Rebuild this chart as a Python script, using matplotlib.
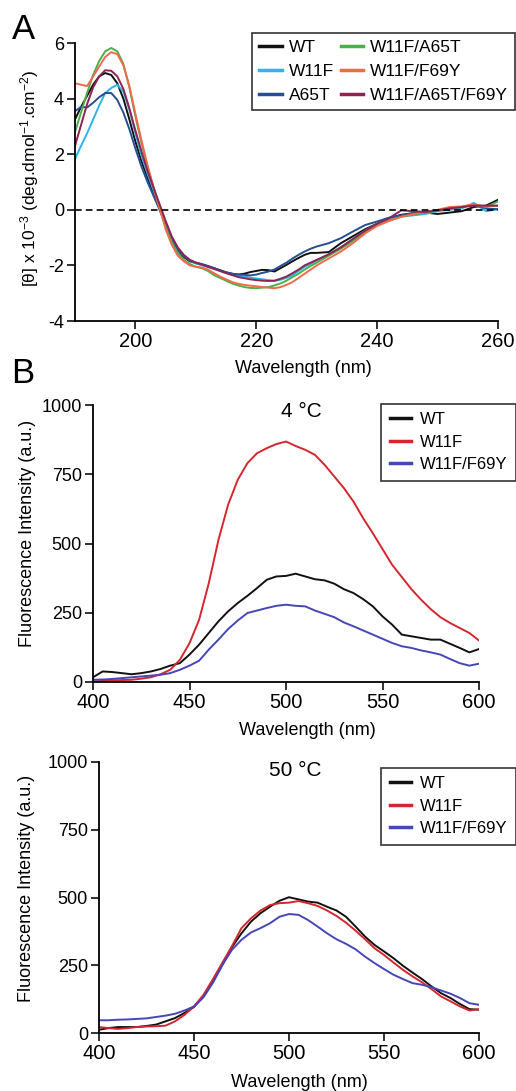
import matplotlib
matplotlib.use("Agg")
import matplotlib.pyplot as plt

plt.rcParams['font.family'] = ['Liberation Sans', 'DejaVu Sans']
plt.rcParams['mathtext.fontset'] = 'custom'
plt.rcParams['mathtext.rm'] = 'Liberation Sans'
plt.rcParams['mathtext.it'] = 'Liberation Sans:italic'
plt.rcParams['axes.unicode_minus'] = False

# ---------------- Panel A data (CD spectra) ----------------
wl_A = list(range(190, 231)) + list(range(232, 261, 2))

cd_wt = [3.25, 3.7, 4.1, 4.5, 4.8, 4.92, 4.85, 4.55, 4.0, 3.25, 2.45, 1.75, 1.15, 0.6, 0.05,
         -0.55, -1.05, -1.45, -1.7, -1.85, -1.92, -1.97, -2.03, -2.1, -2.18, -2.25, -2.3, -2.33,
         -2.3, -2.24, -2.2, -2.16, -2.17, -2.22, -2.1, -1.98, -1.85, -1.73, -1.62, -1.55, -1.55,
         -1.52, -1.2, -0.95, -0.7, -0.5, -0.3, -0.18, -0.12, -0.1, -0.15, -0.1, -0.05, 0.1, 0.15, 0.36]
cd_w11f = [1.83, 2.3, 2.75, 3.25, 3.75, 4.2, 4.38, 4.5, 4.25, 3.6, 2.75, 1.95, 1.3, 0.7, 0.1,
           -0.5, -1.0, -1.4, -1.65, -1.82, -1.93, -2.0, -2.06, -2.13, -2.2, -2.27, -2.33, -2.37,
           -2.4, -2.44, -2.47, -2.5, -2.53, -2.56, -2.52, -2.45, -2.35, -2.2, -2.05, -1.95, -1.82,
           -1.6, -1.35, -1.05, -0.75, -0.5, -0.32, -0.22, -0.2, -0.15, -0.05, 0.0, 0.05, 0.25, -0.05, 0.02]
cd_a65t = [3.55, 3.7, 3.68, 3.85, 4.05, 4.2, 4.2, 3.95, 3.5, 2.9, 2.2, 1.55, 1.0, 0.5, 0.0,
           -0.55, -1.05, -1.45, -1.68, -1.82, -1.9, -1.95, -2.02, -2.1, -2.17, -2.25, -2.3, -2.33,
           -2.34, -2.36, -2.33, -2.27, -2.22, -2.15, -2.02, -1.9, -1.75, -1.62, -1.5, -1.4, -1.32,
           -1.2, -1.02, -0.78, -0.55, -0.42, -0.28, -0.2, -0.12, -0.08, -0.02, 0.05, 0.1, 0.18, 0.05, 0.02]
cd_w11f_a65t = [2.8, 3.5, 4.2, 4.85, 5.35, 5.7, 5.82, 5.7, 5.25, 4.4, 3.35, 2.4, 1.55, 0.8, 0.1,
                -0.6, -1.15, -1.55, -1.8, -1.95, -2.05, -2.1, -2.2, -2.35, -2.45, -2.55, -2.65, -2.72,
                -2.78, -2.81, -2.82, -2.8, -2.78, -2.72, -2.65, -2.55, -2.42, -2.3, -2.15, -2.02, -1.9,
                -1.65, -1.4, -1.12, -0.8, -0.55, -0.38, -0.25, -0.18, -0.1, -0.02, 0.05, 0.1, 0.18, 0.1, 0.3]
cd_w11f_f69y = [4.55, 4.5, 4.45, 4.8, 5.15, 5.5, 5.67, 5.6, 5.2, 4.45, 3.45, 2.5, 1.6, 0.8, 0.05,
                -0.7, -1.25, -1.65, -1.85, -2.0, -2.05, -2.08, -2.15, -2.28, -2.4, -2.5, -2.6, -2.66,
                -2.7, -2.73, -2.75, -2.78, -2.8, -2.82, -2.78, -2.7, -2.6, -2.45, -2.3, -2.15, -2.0,
                -1.75, -1.5, -1.2, -0.85, -0.58, -0.4, -0.25, -0.15, -0.08, 0.0, 0.1, 0.12, 0.2, 0.12, 0.15]
cd_triple = [2.3, 3.05, 3.8, 4.4, 4.8, 5.02, 5.0, 4.8, 4.35, 3.65, 2.85, 2.1, 1.4, 0.8, 0.2,
             -0.4, -0.95, -1.35, -1.62, -1.8, -1.9, -1.97, -2.05, -2.12, -2.2, -2.28, -2.35, -2.42,
             -2.46, -2.5, -2.53, -2.55, -2.56, -2.55, -2.48, -2.4, -2.28, -2.15, -2.0, -1.9, -1.8,
             -1.6, -1.35, -1.05, -0.75, -0.5, -0.3, -0.02, -0.05, -0.08, -0.02, 0.05, 0.1, 0.15, 0.15, 0.15]

labels_A = ["WT", "W11F", "A65T", "W11F/A65T", "W11F/F69Y", "W11F/A65T/F69Y"]
colors_A = ["#111111", "#2bb5ea", "#254f92", "#4cb04a", "#f26a4b", "#8e2454"]
series_A = [cd_wt, cd_w11f, cd_a65t, cd_w11f_a65t, cd_w11f_f69y, cd_triple]

# ---------------- Panel B data (fluorescence) ----------------
wl_B = [400, 405, 410, 415, 420, 425, 430, 435, 440, 445, 450, 455, 460, 465, 470, 475, 480,
        485, 490, 495, 500, 505, 510, 515, 520, 525, 530, 535, 540, 545, 550, 555, 560, 565,
        570, 575, 580, 585, 590, 595, 600]

f4_wt = [17, 38, 36, 32, 28, 32, 38, 47, 59, 68, 99, 135, 177, 219, 255, 285, 311, 339, 369, 381,
         383, 391, 381, 371, 367, 355, 335, 321, 299, 273, 237, 207, 171, 165, 159, 153, 153, 138,
         123, 107, 119]
f4_w11f = [2, 4, 6, 7, 8, 12, 17, 28, 44, 80, 140, 225, 357, 513, 640, 730, 790, 826, 844, 859,
           868, 852, 838, 820, 784, 742, 700, 651, 591, 537, 480, 423, 379, 335, 297, 263, 234, 213,
           195, 177, 150]
f4_f69y = [8, 9, 11, 14, 17, 20, 23, 26, 32, 44, 59, 77, 117, 153, 191, 222, 249, 258, 267, 275,
           279, 275, 273, 258, 246, 234, 215, 201, 186, 171, 156, 141, 129, 123, 114, 107, 99, 83,
           68, 59, 66]

f50_wt = [12, 18, 22, 22, 22, 26, 31, 43, 55, 74, 96, 135, 190, 252, 317, 368, 411, 442, 466, 488,
          501, 493, 485, 481, 466, 452, 429, 393, 356, 325, 301, 276, 248, 223, 199, 172, 147, 129,
          107, 88, 86]
f50_w11f = [22, 18, 15, 18, 22, 24, 25, 27, 43, 67, 98, 141, 199, 260, 321, 387, 423, 452, 472, 479,
            481, 487, 479, 469, 452, 432, 407, 378, 346, 313, 288, 260, 233, 209, 187, 162, 135, 117,
            98, 83, 88]
f50_f69y = [47, 47, 49, 50, 52, 54, 59, 64, 71, 83, 98, 132, 186, 252, 307, 344, 371, 387, 405, 429,
            439, 436, 417, 393, 368, 346, 329, 309, 282, 258, 236, 215, 199, 184, 178, 169, 157, 145,
            129, 110, 104]

labels_B = ["WT", "W11F", "W11F/F69Y"]
colors_B = ["#111111", "#d4262e", "#4547b8"]

W, H = 516, 1091
fig = plt.figure(figsize=(W / 100, H / 100), dpi=100)


def rect(l, r, t, b):
    return [l / W, 1 - b / H, (r - l) / W, (b - t) / H]


def style(ax):
    for s in ['top', 'right']:
        ax.spines[s].set_visible(False)
    for s in ['left', 'bottom']:
        ax.spines[s].set_linewidth(1.3)
    ax.tick_params(axis='both', direction='out', length=6, width=1.3, color='#222222')
    ax.tick_params(axis='x', labelsize=14.5, pad=2)
    ax.tick_params(axis='y', labelsize=13, pad=2)


# ---------------- Panel A ----------------
axA = fig.add_axes(rect(75, 498, 43, 321))
for y, c, lab in zip(series_A, colors_A, labels_A):
    axA.plot(wl_A, y, color=c, lw=1.4, label=lab)
axA.axhline(0, color='black', lw=1.2, ls=(0, (4, 2.5)))
axA.set_xlim(190, 260)
axA.set_ylim(-4, 6)
axA.set_xticks([200, 220, 240, 260])
axA.set_yticks([-4, -2, 0, 2, 4, 6])
style(axA)
axA.set_xlabel("Wavelength (nm)", fontsize=13)
axA.xaxis.set_label_coords(0.54, -0.14)
axA.set_ylabel(r"[θ] x 10$^{-3}$ (deg.dmol$^{-1}$.cm$^{-2}$)", fontsize=12.5)
axA.yaxis.set_label_coords(-0.08, 0.514)
legA = axA.legend(ncol=2, loc='upper right', bbox_to_anchor=(515 / W, 1 - 33 / H),
                  bbox_transform=fig.transFigure, fontsize=12.5, frameon=True, fancybox=False,
                  edgecolor='black', handlelength=1.3, handletextpad=0.4, columnspacing=0.4,
                  labelspacing=0.5, borderpad=0.4, borderaxespad=0)
legA.get_frame().set_linewidth(1.2)
for h in legA.get_lines():
    h.set_linewidth(2.5)

fig.text(23.5 / W, 1 - 29.5 / H, "A", fontsize=25, ha='center', va='center')
fig.text(23 / W, 1 - 373.5 / H, "B", fontsize=25, ha='center', va='center')


def fluor_panel(box, series, title, tpos, ylab_x, xlab_pos, leg_top):
    ax = fig.add_axes(rect(*box))
    for y, c, lab in zip(series, colors_B, labels_B):
        ax.plot(wl_B, y, color=c, lw=1.4, label=lab)
    ax.set_xlim(400, 600)
    ax.set_ylim(0, 1000)
    ax.set_xticks([400, 450, 500, 550, 600])
    ax.set_yticks([0, 250, 500, 750, 1000])
    style(ax)
    ax.set_xlabel("Wavelength (nm)", fontsize=13)
    ax.xaxis.set_label_coords(*xlab_pos)
    ax.set_ylabel("Fluorescence Intensity (a.u.)", fontsize=13)
    ax.yaxis.set_label_coords(ylab_x, 0.535)
    ax.text(tpos[0], tpos[1], title, transform=ax.transAxes, fontsize=15,
            ha='center', va='center')
    leg = ax.legend(loc='upper right', bbox_to_anchor=(515.5 / W, 1 - leg_top / H),
                    bbox_transform=fig.transFigure, fontsize=12, frameon=True, fancybox=False,
                    edgecolor='black', handlelength=1.3, handletextpad=0.5,
                    labelspacing=0.45, borderpad=0.5, borderaxespad=0)
    leg.get_frame().set_linewidth(1.2)
    for h in leg.get_lines():
        h.set_linewidth(2.5)
    return ax


fluor_panel((93, 479, 405, 682), [f4_wt, f4_w11f, f4_f69y], "4 °C", (0.541, 0.975),
            -0.148, (0.556, -0.144), 404)
fluor_panel((99, 479, 762, 1033), [f50_wt, f50_w11f, f50_f69y], "50 °C", (0.516, 0.97),
            -0.168, (0.528, -0.151), 768)

fig.savefig("out.png", dpi=100)
